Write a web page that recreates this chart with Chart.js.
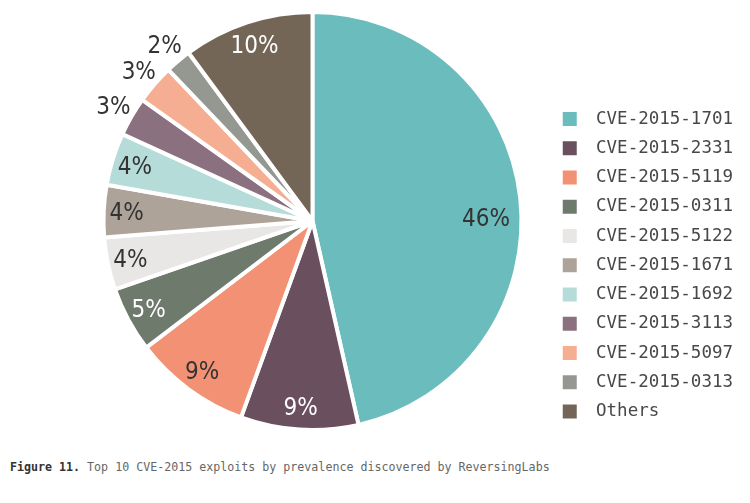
<!DOCTYPE html>
<html>
<head>
<meta charset="utf-8">
<script src="https://cdn.jsdelivr.net/npm/chart.js@4"></script>
<style>
  body { margin: 0; background: #fff; }
  #wrap { position: relative; width: 750px; height: 445px; }
  .caption {
    position: absolute; left: 10px; top: 460px;
    font-family: "DejaVu Sans Mono", monospace; font-size: 11.65px; color: #666;
  }
  .caption b { color: #333; }
</style>
</head>
<body>
<div id="wrap"><canvas id="cvePie"></canvas></div>
<div class="caption"><b>Figure 11.</b> Top 10 CVE-2015 exploits by prevalence discovered by ReversingLabs</div>
<script>
var labels = ["CVE-2015-1701", "CVE-2015-2331", "CVE-2015-5119", "CVE-2015-0311", "CVE-2015-5122",
  "CVE-2015-1671", "CVE-2015-1692", "CVE-2015-3113", "CVE-2015-5097", "CVE-2015-0313", "Others"];
var shares = [46, 9, 9, 5, 4, 4, 4, 3, 3, 2, 10];
var colors = ["#6bbdbd", "#6a4f5f", "#f29174", "#6e7a6c", "#e8e7e5", "#ada398", "#b5dcd9",
  "#8b7080", "#f6ae93", "#949891", "#736656"];
var labelColors = ["#333", "#fff", "#333", "#fff", "#333", "#333", "#333", "#333", "#333", "#333", "#fff"];
var outside = [false, false, false, false, false, false, false, true, true, true, false];

var sliceLabels = {
  id: "sliceLabels",
  afterDatasetsDraw: function (chart) {
    var ctx = chart.ctx;
    var meta = chart.getDatasetMeta(0);
    ctx.save();
    ctx.font = "24px 'Liberation Sans Narrow', 'DejaVu Sans Condensed', sans-serif";
    ctx.textAlign = "center";
    ctx.textBaseline = "middle";
    meta.data.forEach(function (arc, i) {
      var mid = (arc.startAngle + arc.endAngle) / 2;
      // the big slice's label sits a bit lower than its midpoint in the original
      if (i === 0) mid += 0.09;
      var r = arc.outerRadius * (outside[i] ? 1.1 : (i === 0 ? 0.83 : 0.89));
      ctx.fillStyle = labelColors[i];
      ctx.fillText(shares[i] + "%", arc.x + Math.cos(mid) * r, arc.y + Math.sin(mid) * r + 2);
    });
    ctx.restore();
  }
};

var ctx = document.getElementById("cvePie");
var cvePie = new Chart(ctx, {
  type: "pie",
  data: {
    labels: labels,
    datasets: [{
      data: shares,
      backgroundColor: colors,
      borderColor: "#fff",
      borderWidth: 4
    }]
  },
  plugins: [sliceLabels],
  options: {
    responsive: true,
    maintainAspectRatio: false,
    animation: false,
    layout: { padding: { top: 10, bottom: 13, left: 74, right: 7 } },
    plugins: {
      tooltip: { enabled: false },
      legend: {
        position: "right",
        align: "end",
        labels: {
          color: "#484848",
          boxWidth: 14,
          boxHeight: 14,
          padding: 11.75,
          font: { family: "'DejaVu Sans Mono', monospace", size: 17.5 },
          generateLabels: function (chart) {
            var items = Chart.controllers.pie.overrides.plugins.legend.labels.generateLabels(chart);
            items.forEach(function (it) { it.text = " " + it.text; it.lineWidth = 0; });
            return items;
          }
        }
      }
    }
  }
});
</script>
</body>
</html>
